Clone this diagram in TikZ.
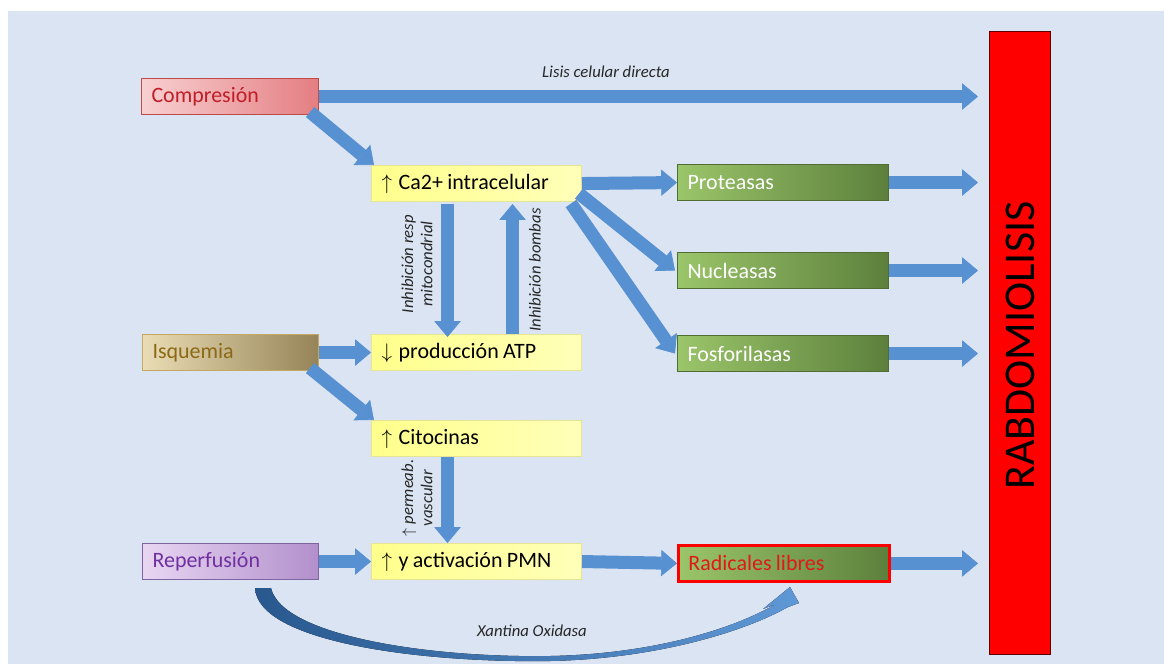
\documentclass[tikz,border=0pt]{standalone}
\usepackage{fontspec}
\setmainfont{Carlito}
\usetikzlibrary{arrows.meta}

\definecolor{fondo}{RGB}{219,228,243}
\definecolor{azul}{RGB}{88,145,210}
\definecolor{azuloscuro}{RGB}{40,88,142}
\definecolor{azulclaro}{RGB}{95,152,214}
\definecolor{rosaclaro}{RGB}{248,208,209}
\definecolor{rosaoscuro}{RGB}{228,126,130}
\definecolor{rosaborde}{RGB}{190,75,72}
\definecolor{rosatexto}{RGB}{192,30,40}
\definecolor{tanclaro}{RGB}{234,220,180}
\definecolor{tanoscuro}{RGB}{150,132,88}
\definecolor{tanborde}{RGB}{196,168,96}
\definecolor{tantexto}{RGB}{140,105,20}
\definecolor{lilaclaro}{RGB}{232,214,242}
\definecolor{lilaoscuro}{RGB}{178,143,204}
\definecolor{lilaborde}{RGB}{128,100,162}
\definecolor{lilatexto}{RGB}{112,48,160}
\definecolor{amarilloA}{RGB}{255,255,140}
\definecolor{amarilloB}{RGB}{255,255,185}
\definecolor{amarilloborde}{RGB}{232,228,150}
\definecolor{verdeclaro}{RGB}{155,197,106}
\definecolor{verdeoscuro}{RGB}{92,128,60}
\definecolor{verdeborde}{RGB}{80,110,50}
\definecolor{rojobarra}{RGB}{255,0,0}
\definecolor{rojoborde}{RGB}{90,0,0}
\definecolor{rojotexto}{RGB}{225,25,25}

\newcommand\espaciocaja{\spaceskip=0.2em plus 0.05em\relax}
\newcommand\sube{$\uparrow$\hspace{0.3em}}
\newcommand\baja{$\downarrow$\hspace{0.3em}}

\begin{document}
\begin{tikzpicture}[x=0.02cm,y=-0.02cm,
    caja/.style={anchor=north west,minimum height=0.72cm,inner xsep=0.2cm,inner ysep=0pt,
        align=left,font=\fontsize{12.5}{14}\selectfont,execute at begin node=\espaciocaja,line width=0.6pt},
    rosa/.style={caja,text width=3.14cm,left color=rosaclaro,right color=rosaoscuro,draw=rosaborde,text=rosatexto},
    tan/.style={caja,text width=3.12cm,left color=tanclaro,right color=tanoscuro,draw=tanborde,text=tantexto},
    lila/.style={caja,text width=3.12cm,left color=lilaclaro,right color=lilaoscuro,draw=lilaborde,text=lilatexto},
    amarilla/.style={caja,text width=3.8cm,left color=amarilloA,right color=amarilloB,draw=amarilloborde},
    verde/.style={caja,text width=3.82cm,left color=verdeclaro,right color=verdeoscuro,draw=verdeborde,text=white},
    flecha/.style={draw=azul,line width=7.4pt,-{Triangle[length=9pt,width=15pt,line width=0.4pt]}},
    etiqueta/.style={font=\fontsize{9.5}{11}\selectfont\itshape,align=center,text=black!85}]

    %%%%%%%% Fondo %%%%%%%%%
    \useasboundingbox (0,0) rectangle (1164,664);
    \fill[fondo] (8,11) rectangle (1164,664);

    %%%%%%%% Cajas %%%%%%%%%
    \node[rosa] (comp) at (141,78) {Compresión};
    \node[tan] (isq) at (142,334) {Isquemia};
    \node[lila] (rep) at (142,543) {Reperfusión};

    \node[amarilla] (ca) at (371,165) {\sube Ca2+ intracelular};
    \node[amarilla] (atp) at (371,334) {\baja producción ATP};
    \node[amarilla] (cito) at (371,420) {\sube Citocinas};
    \node[amarilla] (pmn) at (371,543) {\sube y activación PMN};

    \node[verde] (prot) at (677,164) {Proteasas};
    \node[verde] (nuc) at (677,252) {Nucleasas};
    \node[verde] (fos) at (677,335) {Fosforilasas};
    \node[verde,draw=rojobarra,line width=1.6pt,text=rojotexto] (rad) at (677,544) {Radicales libres};

    \node[anchor=north west,draw=rojoborde,fill=rojobarra,line width=0.6pt,
        minimum width=1.22cm,minimum height=12.46cm] (rabdo) at (989,31) {};
    \node[rotate=90,font=\fontsize{25}{29}\selectfont] at ([yshift=-0.05cm]rabdo.center) {RABDOMIOLISIS};

    %%%%%%%% Flechas %%%%%%%%%
    \draw[flecha,shorten >=0.22cm] (comp.east) -- (comp.east -| rabdo.west);
    \draw[flecha] ([xshift=-0.18cm,yshift=0.06cm]comp.south east) -- ([xshift=0.06cm]ca.north west);

    \draw[flecha] (ca.east) -- (prot.west);
    \draw[flecha] ([xshift=-0.06cm,yshift=-0.2cm]ca.east) -- ([xshift=-0.04cm]nuc.west);
    \draw[flecha] ([xshift=-0.22cm,yshift=-0.4cm]ca.east) -- ([xshift=-0.04cm]fos.west);

    \draw[flecha] ([xshift=-0.58cm,yshift=-0.04cm]ca.south) -- ([xshift=-0.58cm,yshift=-0.06cm]atp.north);
    \draw[flecha] ([xshift=0.72cm]atp.north) -- ([xshift=0.72cm,yshift=-0.04cm]ca.south);

    \draw[flecha] (isq.east) -- (atp.west);
    \draw[flecha] ([xshift=-0.18cm,yshift=0.06cm]isq.south east) -- ([xshift=0.06cm]cito.north west);
    \draw[flecha] ([xshift=-0.58cm]cito.south) -- ([xshift=-0.58cm]pmn.north);

    \draw[flecha] (rep.east) -- (pmn.west);
    \draw[flecha] (pmn.east) -- (rad.west);

    \foreach \n in {prot,nuc,fos,rad}
        \draw[flecha,shorten >=0.22cm] (\n.east) -- (\n.east -| rabdo.west);

    % flecha curva de la xantina oxidasa
    \fill[left color=azuloscuro,right color=azulclaro]
        (255,588) .. controls (258,642) and (420,663) .. (550,661)
        .. controls (650,659) and (740,634) .. (788,607) -- (799,603) -- (790,587)
        -- (763,609) -- (776,604) .. controls (735,628) and (655,654) .. (550,656)
        .. controls (430,658) and (282,636) .. (271,588) -- cycle;

    %%%%%%%% Testo %%%%%%%%%
    \node[etiqueta] at (606,72) {Lisis celular directa};
    \node[etiqueta,rotate=90] at (417,264) {Inhibición resp\\mitocondrial};
    \node[etiqueta,rotate=90] at (535,270) {Inhibición bombas};
    \node[etiqueta,rotate=90] at (417,498) {$\uparrow$ permeab.\\vascular};
    \node[etiqueta] at (532,631) {Xantina Oxidasa};

\end{tikzpicture}
\end{document}
